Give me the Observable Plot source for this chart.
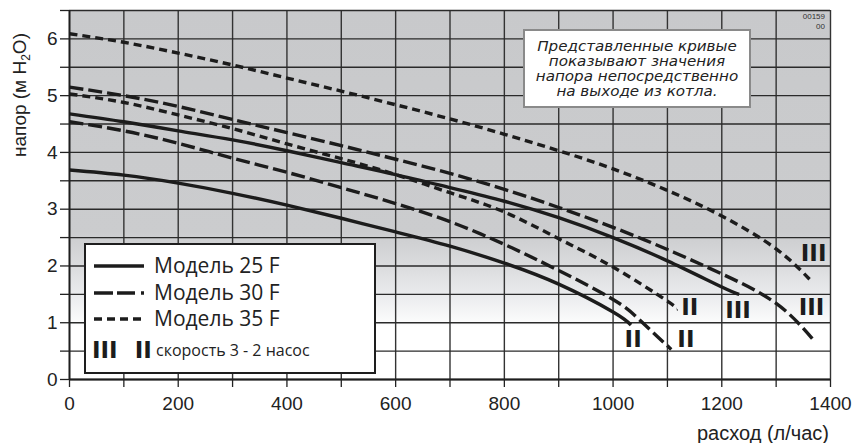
<!DOCTYPE html>
<html>
<head>
<meta charset="utf-8">
<script src="https://cdn.jsdelivr.net/npm/d3@7"></script>
<script src="https://cdn.jsdelivr.net/npm/@observablehq/plot@0.6"></script>
<style>
  html, body { margin: 0; padding: 0; background: #fff; }
  #wrap { position: relative; width: 854px; height: 443px; overflow: hidden; }
  #legend { position: absolute; left: 84px; top: 243px; width: 288px; height: 127px;
            border: 2px solid #1e1e1e; background: #fff; font-family: "Open Sans", sans-serif; color: #222; }
  #note { position: absolute; left: 523px; top: 29px; width: 224px; height: 75px;
          border: 2px solid #8a8a8a; background: #fff; font-family: "DejaVu Sans", sans-serif;
          font-style: italic; font-size: 13.5px; line-height: 15px; color: #222; text-align: center;
          display: flex; flex-direction: column; justify-content: center; }
  #note .inner { transform: scaleX(1.12); transform-origin: 50% 50%; }
  #code { position: absolute; right: 29px; top: 12px; font-family: "Liberation Sans", Arial, sans-serif;
          font-size: 8px; line-height: 10px; text-align: right; color: #333; }
</style>
</head>
<body>
<div id="wrap"></div>
<script>
// ---- data ----
const models = ["Модель 25 F", "Модель 30 F", "Модель 35 F"];
const speeds = ["III", "II"];

// Модель 25 F, скорость III
const m25s3Flow = [0, 100, 200, 300, 400, 500, 600, 700, 800, 900, 1000, 1100, 1200, 1232];
const m25s3Head = [4.68, 4.54, 4.38, 4.22, 4.03, 3.82, 3.61, 3.38, 3.14, 2.85, 2.5, 2.09, 1.63, 1.5];
// Модель 25 F, скорость II
const m25s2Flow = [0, 100, 200, 300, 400, 500, 600, 700, 800, 900, 1000, 1033];
const m25s2Head = [3.69, 3.6, 3.46, 3.28, 3.07, 2.84, 2.6, 2.35, 2.05, 1.68, 1.19, 0.96];
// Модель 30 F, скорость III
const m30s3Flow = [0, 100, 200, 300, 400, 500, 600, 700, 800, 900, 1000, 1100, 1200, 1300, 1370];
const m30s3Head = [5.15, 5.0, 4.81, 4.58, 4.35, 4.12, 3.88, 3.63, 3.35, 3.03, 2.68, 2.29, 1.86, 1.34, 0.68];
// Модель 30 F, скорость II
const m30s2Flow = [0, 100, 200, 300, 400, 500, 600, 700, 800, 900, 1000, 1050, 1107];
const m30s2Head = [4.54, 4.38, 4.16, 3.9, 3.65, 3.38, 3.1, 2.78, 2.38, 1.92, 1.41, 1.04, 0.53];
// Модель 35 F, скорость III
const m35s3Flow = [0, 100, 200, 300, 400, 500, 600, 700, 800, 900, 1000, 1100, 1200, 1300, 1367];
const m35s3Head = [6.09, 5.94, 5.75, 5.54, 5.31, 5.08, 4.84, 4.59, 4.32, 4.03, 3.71, 3.33, 2.88, 2.3, 1.71];
// Модель 35 F, скорость II
const m35s2Flow = [0, 100, 200, 300, 400, 500, 600, 700, 800, 900, 1000, 1100, 1117];
const m35s2Head = [5.03, 4.88, 4.66, 4.42, 4.15, 3.89, 3.61, 3.29, 2.95, 2.48, 1.98, 1.38, 1.24];

// speed marks placed next to curve ends
const speedLabelText = ["III", "III", "III", "II", "II", "II"];
const speedLabelFlow = [1369, 1230, 1365, 1141, 1037, 1134];
const speedLabelHead = [2.22, 1.22, 1.26, 1.26, 0.7, 0.7];

const xTicks = d3.range(0, 1401, 100);
const yTicks = d3.range(0, 6.51, 0.5);

const noteLines = ["Представленные кривые", "показывают значения", "напора непосредственно", "на выходе из котла."];
const legendSpeedText = "скорость 3 - 2 насос";
const yTitle = ["напор (м H", "2", "O)"];
const xTitle = "расход (л/час)";
const codeLines = ["00159", "00"];

// ---- build table ----
function rows(model, speed, flow, head) {
  return flow.map((f, i) => ({model, speed, flow: f, head: head[i]}));
}
const curves = [
  ...rows(models[0], speeds[0], m25s3Flow, m25s3Head),
  ...rows(models[0], speeds[1], m25s2Flow, m25s2Head),
  ...rows(models[1], speeds[0], m30s3Flow, m30s3Head),
  ...rows(models[1], speeds[1], m30s2Flow, m30s2Head),
  ...rows(models[2], speeds[0], m35s3Flow, m35s3Head),
  ...rows(models[2], speeds[1], m35s2Flow, m35s2Head)
];
const speedLabels = speedLabelText.map((t, i) => ({t, flow: speedLabelFlow[i], head: speedLabelHead[i]}));

const dash = {[models[0]]: null, [models[1]]: "14,5", [models[2]]: "8,5"};
const lineMarks = models.map(m => Plot.line(curves.filter(d => d.model === m), {
  x: "flow", y: "head", z: "speed", curve: "natural",
  stroke: "#1c1c1c", strokeWidth: 3.4, strokeDasharray: dash[m], strokeLinecap: "butt"
}));

const chart = Plot.plot({
  width: 854, height: 443,
  marginTop: 10, marginBottom: 64, marginLeft: 69, marginRight: 24,
  x: {domain: [0, 1400]},
  y: {domain: [0, 6.5]},
  style: {fontFamily: "'Liberation Sans', Arial, sans-serif", fontSize: "19px", color: "#222", background: "transparent"},
  marks: [
    Plot.frame({fill: "url(#bgGrad)", stroke: null}),
    Plot.ruleX(xTicks, {stroke: "#333", strokeWidth: 1.4}),
    Plot.ruleY(yTicks, {stroke: "#2a2a2a", strokeWidth: 1.4}),
    Plot.ruleX([0], {stroke: "#1e1e1e", strokeWidth: 1.8}),
    Plot.ruleY([0], {stroke: "#1e1e1e", strokeWidth: 1.8}),
    Plot.axisX({ticks: xTicks, tickFormat: d => d % 200 === 0 ? String(d) : "", tickSize: 8, tickPadding: 9, label: null, fontSize: 19, stroke: "#222", strokeWidth: 1.3}),
    Plot.axisY({ticks: yTicks, tickFormat: d => Number.isInteger(d) ? String(d) : "", tickSize: 9, tickPadding: 3, label: null, fontSize: 19, stroke: "#222", strokeWidth: 1.3}),
    ...lineMarks,
    Plot.text(speedLabels, {x: "flow", y: "head", text: "t", fontFamily: "'DejaVu Sans', sans-serif", fontWeight: "bold", fontSize: 23, fill: "#1c1c1c"})
  ]
});

const wrap = document.getElementById("wrap");
wrap.appendChild(chart);

// gradient background definition
const svg = d3.select(chart);
const grad = svg.insert("defs", ":first-child").append("linearGradient")
  .attr("id", "bgGrad").attr("x1", 0).attr("y1", 0).attr("x2", 0).attr("y2", 1);
[[0, "#c8c9cb"], [0.6, "#cbccce"], [0.7, "#dcdddf"], [0.78, "#ecedef"], [0.86, "#ffffff"], [1, "#ffffff"]]
  .forEach(([o, c]) => grad.append("stop").attr("offset", o).attr("stop-color", c));

// axis titles
const yt = svg.append("text").attr("transform", "translate(26,95) rotate(-90)")
  .attr("text-anchor", "middle").attr("font-size", 19).attr("fill", "#222")
  .attr("font-family", "'Liberation Sans', Arial, sans-serif");
yt.append("tspan").text(yTitle[0]);
yt.append("tspan").attr("font-size", 12).attr("dy", 4).text(yTitle[1]);
yt.append("tspan").attr("dy", -4).text(yTitle[2]);
svg.append("text").attr("x", 829).attr("y", 440).attr("text-anchor", "end")
  .attr("font-size", 20).attr("fill", "#222").attr("font-family", "'Liberation Sans', Arial, sans-serif")
  .text(xTitle);

// note box
const note = document.createElement("div");
note.id = "note";
note.innerHTML = `<div class="inner">${noteLines.map(l => `<div>${l}</div>`).join("")}</div>`;
wrap.appendChild(note);

// code
const code = document.createElement("div");
code.id = "code";
code.innerHTML = codeLines.join("<br>");
wrap.appendChild(code);

// legend
const legend = document.createElement("div");
legend.id = "legend";
const legendDash = [null, "19,4,18,6,3", "8,5"];
let html = "";
models.forEach((m, i) => {
  const top = 8 + i * 26.7;
  html += `<svg style="position:absolute;left:7px;top:${top}px" width="52" height="26"><line x1="1" x2="51" y1="13" y2="13" stroke="#1c1c1c" stroke-width="3.6" ${legendDash[i] ? `stroke-dasharray="${legendDash[i]}"` : ""}/></svg>`;
  html += `<div style="position:absolute;left:68px;top:${top - 3}px;font-size:21px;line-height:30px;white-space:nowrap">${m}</div>`;
});
html += `<div style="position:absolute;left:6px;top:91px;font-family:'DejaVu Sans',sans-serif;font-weight:bold;font-size:23px;line-height:28px;color:#1c1c1c;white-space:nowrap">${speeds[0]}<span style="margin-left:17px">${speeds[1]}</span></div>`;
html += `<div style="position:absolute;left:70px;top:93px;font-size:16px;line-height:24px;white-space:nowrap">${legendSpeedText}</div>`;
legend.innerHTML = html;
wrap.appendChild(legend);
</script>
</body>
</html>
